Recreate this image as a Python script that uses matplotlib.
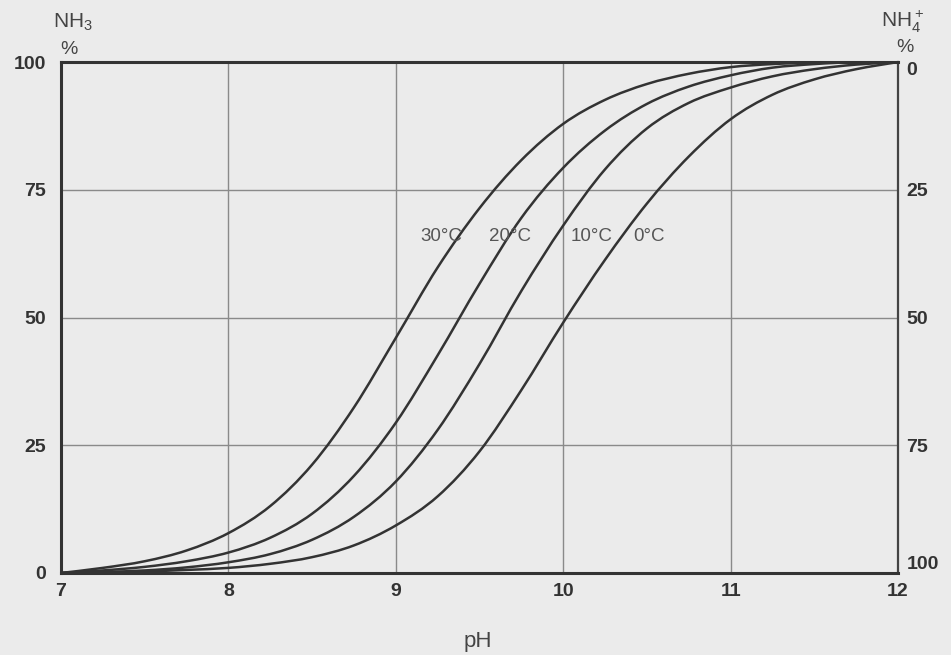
import numpy as np
import matplotlib.pyplot as plt
from matplotlib.path import Path
from matplotlib.patches import PathPatch

plt.rcParams['font.family'] = ['Liberation Sans', 'DejaVu Sans']
plt.rcParams['mathtext.fontset'] = 'custom'
plt.rcParams['mathtext.rm'] = 'Liberation Sans'

ph = [7.0, 7.25, 7.5, 7.75, 8.0, 8.25, 8.5, 8.75, 9.0, 9.25, 9.5,
      9.75, 10.0, 10.25, 10.5, 10.75, 11.0, 11.25, 11.5, 11.75, 12.0]

# NH3 fraction (%)
nh3_30 = [0, 1.0, 2.3, 4.4, 7.8, 13.1, 21.2, 32.4, 46.0, 59.8, 71.4,
          80.8, 87.9, 92.6, 95.7, 97.7, 99.0, 99.6, 99.9, 100, 100]
nh3_20 = [0, 0.5, 1.2, 2.3, 4.0, 6.9, 11.6, 19.0, 29.4, 42.6, 56.6,
          69.5, 79.3, 86.6, 91.8, 95.2, 97.4, 98.9, 99.6, 100, 100]
nh3_10 = [0, 0.2, 0.5, 1.1, 2.1, 3.7, 6.5, 11.0, 17.9, 28.0, 40.9,
          55.2, 68.0, 79.0, 87.0, 92.0, 95.0, 97.2, 98.6, 99.5, 100]
nh3_0 = [0, 0.1, 0.3, 0.6, 1.0, 1.8, 3.1, 5.4, 9.3, 15.0, 23.8,
         35.8, 49.0, 61.3, 72.3, 81.5, 88.8, 93.6, 96.6, 98.6, 100]

curves = [nh3_30, nh3_20, nh3_10, nh3_0]
curve_labels = ['30°C', '20°C', '10°C', '0°C']
label_x = [9.27, 9.68, 10.17, 10.51]
label_y = [65.8, 65.8, 65.8, 65.8]

xticks = [7, 8, 9, 10, 11, 12]
yticks = [0, 25, 50, 75, 100]


def smooth_path(x, y):
    # Catmull-Rom through the read points, drawn as cubic Bezier segments
    p = np.column_stack([x, y]).astype(float)
    ext = np.vstack([p[0], p, p[-1]])
    verts = [p[0]]
    codes = [Path.MOVETO]
    for i in range(len(p) - 1):
        p0, p1, p2, p3 = ext[i], ext[i + 1], ext[i + 2], ext[i + 3]
        verts += [p1 + (p2 - p0) / 6, p2 - (p3 - p1) / 6, p2]
        codes += [Path.CURVE4] * 3
    return Path(verts, codes)


bg = '#ebebeb'
fig = plt.figure(figsize=(9.51, 6.55), dpi=100, facecolor=bg)
ax = fig.add_axes([0.0641, 0.1252, 0.8802, 0.7801], facecolor=bg)

for c in curves:
    ax.add_patch(PathPatch(smooth_path(ph, c), facecolor='none',
                           edgecolor='#333333', lw=1.8, zorder=3))

for lx, ly, t in zip(label_x, label_y, curve_labels):
    ax.text(lx, ly, t, fontsize=13.5, color='#555555', ha='center', va='center')

ax.set_xlim(7, 12)
ax.set_ylim(0, 100)
ax.set_xticks(xticks)
ax.set_yticks(yticks)
ax.grid(True, color='#8a8a8a', lw=1.0)
ax.tick_params(length=0, labelsize=14, colors='#333333')
ax.tick_params(axis='x', pad=7)
ax.tick_params(axis='y', pad=11)
for lab in ax.get_xticklabels() + ax.get_yticklabels():
    lab.set_fontweight('bold')

for s in ['left', 'bottom', 'top']:
    ax.spines[s].set_linewidth(2.2)
    ax.spines[s].set_color('#333333')
ax.spines['right'].set_linewidth(1.6)
ax.spines['right'].set_color('#444444')

ax2 = ax.twinx()
ax2.set_ylim(100, 0)
ax2.set_yticks(yticks)
ax2.tick_params(length=0, labelsize=14, colors='#333333', pad=6)
rlabs = ax2.get_yticklabels()
for lab in rlabs:
    lab.set_fontweight('bold')
rlabs[0].set_va('top')
rlabs[-1].set_va('bottom')
for s in ax2.spines.values():
    s.set_visible(False)

fig.text(53 / 951, 1 - 22 / 655, 'NH$_3$', fontsize=15, color='#444444', va='center')
fig.text(69 / 951, 1 - 49 / 655, '%', fontsize=14, color='#444444', ha='center', va='center')
fig.text(881 / 951, 1 - 22 / 655, 'NH$_4^+$', fontsize=15, color='#444444', va='center')
fig.text(905 / 951, 1 - 48 / 655, '%', fontsize=14, color='#444444', ha='center', va='center')
fig.text(478 / 951, 1 - 641 / 655, 'pH', fontsize=16, color='#444444', ha='center', va='center')

fig.savefig('out.png', dpi=100, facecolor=bg)
